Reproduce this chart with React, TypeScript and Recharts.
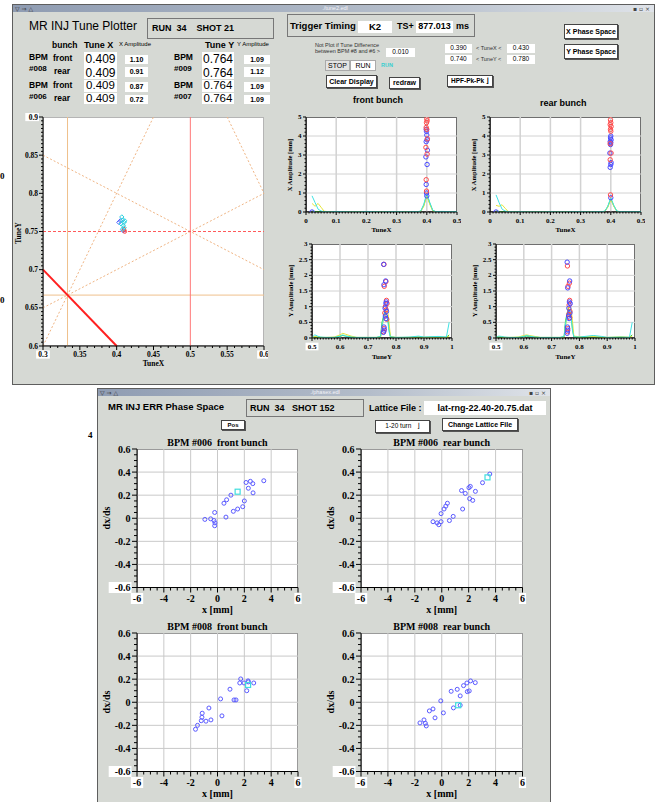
import React from "react";
import { ComposedChart, XAxis, YAxis, Line, Scatter, ReferenceLine } from "recharts";

const SANS = '"Liberation Sans", Arial, Helvetica, sans-serif';
const SERIF = '"Liberation Serif", "Times New Roman", serif';
const WIN = "#d6d9d4";
const CYAN = "#3fe3e3";
const YELLOW = "#e6e63a";
const GREEN = "#3cc83c";
const RED = "#ff4a4a";
const BLUE = "#4848ff";

// ---- tune diagram ----
const tuneCyan = [[0.407, 0.769], [0.408, 0.765], [0.41, 0.762], [0.409, 0.758], [0.411, 0.764], [0.406, 0.76], [0.41, 0.755], [0.408, 0.753]];
const tuneBlue = [[0.403, 0.762], [0.405, 0.764], [0.409, 0.751]];
const tuneRed = [[0.411, 0.75], [0.41, 0.753]];
const resonanceDotted = [
  [[0.3, 0.6], [0.45, 0.9]],
  [[0.3, 0.65], [0.6, 0.8]],
  [[0.3, 0.85], [0.6, 0.7]],
  [[0.55, 0.9], [0.6, 0.8]],
];
const couplingLine = [[0.3, 0.7], [0.4, 0.6]];
const thirdX = 0.3333;
const thirdY = 0.6667;
const halfX = 0.5;
const halfY = 0.75;

// ---- amplitude spectra ----
const binsX = [0.02, 0.03, 0.04, 0.05, 0.06, 0.08, 0.1, 0.12, 0.15, 0.18, 0.2, 0.22, 0.25, 0.28, 0.3, 0.33, 0.35, 0.37, 0.38, 0.39, 0.4, 0.41, 0.42, 0.43, 0.45, 0.48, 0.5];
const frontXCyan = [0.85, 0.5, 0.15, 0.05, 0.02, 0.01, 0.03, 0.02, 0.01, 0.01, 0.03, 0.02, 0.01, 0.02, 0.02, 0.01, 0.02, 0.02, 0.05, 0.4, 1.0, 0.5, 0.08, 0.02, 0.03, 0.02, 0.02];
const frontXYellow = [0.45, 0.3, 0.45, 0.25, 0.04, 0.01, 0.02, 0.01, 0.01, 0.01, 0.02, 0.01, 0.01, 0.01, 0.01, 0.01, 0.01, 0.01, 0.03, 0.3, 0.85, 0.4, 0.05, 0.01, 0.01, 0.01, 0.01];
const frontXGreen = [0.05, 0.03, 0.02, 0.01, 0.01, 0.01, 0.01, 0.01, 0.01, 0.01, 0.01, 0.01, 0.01, 0.01, 0.01, 0.01, 0.01, 0.01, 0.04, 0.35, 0.9, 0.45, 0.06, 0.02, 0.01, 0.01, 0.01];
const rearXCyan = [0.9, 0.5, 0.15, 0.05, 0.02, 0.01, 0.02, 0.01, 0.01, 0.01, 0.02, 0.01, 0.01, 0.02, 0.02, 0.01, 0.02, 0.02, 0.04, 0.3, 0.75, 0.35, 0.05, 0.02, 0.02, 0.02, 0.02];
const rearXYellow = [0.35, 0.3, 0.38, 0.2, 0.03, 0.01, 0.01, 0.01, 0.01, 0.01, 0.02, 0.01, 0.01, 0.01, 0.01, 0.01, 0.01, 0.01, 0.03, 0.25, 0.65, 0.3, 0.04, 0.01, 0.01, 0.01, 0.01];
const rearXGreen = [0.05, 0.03, 0.02, 0.01, 0.01, 0.01, 0.01, 0.01, 0.01, 0.01, 0.01, 0.01, 0.01, 0.01, 0.01, 0.01, 0.01, 0.01, 0.03, 0.28, 0.7, 0.32, 0.04, 0.01, 0.01, 0.01, 0.01];

const binsY = [0.5, 0.51, 0.52, 0.53, 0.55, 0.58, 0.6, 0.61, 0.62, 0.64, 0.66, 0.7, 0.73, 0.745, 0.75, 0.76, 0.77, 0.775, 0.78, 0.8, 0.85, 0.88, 0.9, 0.95, 0.98, 0.99];
const frontYCyan = [0.02, 0.1, 0.06, 0.03, 0.02, 0.02, 0.06, 0.1, 0.06, 0.03, 0.02, 0.02, 0.02, 0.05, 0.4, 0.8, 0.6, 0.2, 0.04, 0.02, 0.03, 0.06, 0.03, 0.05, 0.03, 0.5];
const frontYYellow = [0.01, 0.05, 0.04, 0.02, 0.02, 0.03, 0.1, 0.15, 0.12, 0.06, 0.02, 0.02, 0.02, 0.03, 0.3, 0.9, 0.9, 0.5, 0.05, 0.02, 0.02, 0.04, 0.02, 0.03, 0.02, 0.05];
const frontYGreen = [0.01, 0.03, 0.02, 0.02, 0.01, 0.02, 0.05, 0.08, 0.06, 0.03, 0.01, 0.01, 0.01, 0.05, 0.5, 0.85, 0.7, 0.3, 0.03, 0.01, 0.02, 0.03, 0.02, 0.03, 0.02, 0.1];
const rearYCyan = [0.02, 0.06, 0.05, 0.03, 0.02, 0.02, 0.05, 0.08, 0.06, 0.03, 0.02, 0.02, 0.02, 0.05, 0.45, 0.9, 0.7, 0.25, 0.04, 0.03, 0.08, 0.05, 0.02, 0.03, 0.02, 0.5];
const rearYYellow = [0.02, 0.05, 0.04, 0.02, 0.02, 0.03, 0.08, 0.1, 0.08, 0.05, 0.02, 0.02, 0.02, 0.03, 0.35, 1.0, 0.95, 0.55, 0.06, 0.04, 0.05, 0.03, 0.02, 0.04, 0.02, 0.05];
const rearYGreen = [0.01, 0.03, 0.02, 0.02, 0.01, 0.02, 0.04, 0.06, 0.05, 0.03, 0.01, 0.01, 0.01, 0.04, 0.55, 0.95, 0.75, 0.3, 0.03, 0.02, 0.03, 0.02, 0.01, 0.02, 0.02, 0.1];

// measured tune / amplitude per turn
const frontXRed = [[0.4, 4.9], [0.401, 4.8], [0.399, 4.7], [0.398, 4.45], [0.4, 4.35], [0.402, 3.85], [0.397, 3.4], [0.401, 3.05], [0.398, 1.7], [0.399, 1.1]];
const frontXBlue = [[0.398, 4.35], [0.399, 4.25], [0.4, 4.05], [0.401, 3.8], [0.398, 3.7], [0.402, 3.25], [0.397, 2.9], [0.401, 2.5], [0.398, 1.45], [0.399, 1.0], [0.4, 0.85], [0.02, 0]];
const rearXRed = [[0.399, 4.85], [0.4, 4.7], [0.398, 4.6], [0.401, 4.5], [0.399, 4.35], [0.4, 4.25], [0.398, 3.6], [0.401, 3.1], [0.398, 2.75], [0.399, 0.9]];
const rearXBlue = [[0.4, 4.0], [0.399, 3.9], [0.401, 3.8], [0.398, 3.7], [0.4, 3.65], [0.399, 3.55], [0.397, 3.1], [0.401, 2.6], [0.4, 2.5], [0.398, 2.35], [0.4, 0.75], [0.02, 0]];
const frontYRed = [[0.757, 2.35], [0.764, 1.8], [0.758, 1.65], [0.766, 1.2], [0.768, 1.1], [0.762, 1.0], [0.765, 0.9], [0.76, 0.8], [0.767, 0.6], [0.758, 0.3], [0.756, 0.2]];
const frontYBlue = [[0.756, 2.35], [0.763, 1.82], [0.757, 1.7], [0.765, 1.15], [0.764, 1.1], [0.761, 0.95], [0.766, 0.85], [0.762, 0.7], [0.764, 0.62], [0.757, 0.35], [0.758, 0.25], [0.755, 0.18]];
const rearYRed = [[0.757, 2.3], [0.764, 1.75], [0.759, 1.65], [0.765, 1.2], [0.763, 1.05], [0.766, 0.85], [0.762, 0.75], [0.765, 0.65], [0.758, 0.3], [0.757, 0.2]];
const rearYBlue = [[0.756, 2.42], [0.765, 1.82], [0.758, 1.6], [0.764, 1.15], [0.767, 1.1], [0.762, 0.95], [0.766, 0.8], [0.761, 0.7], [0.763, 0.62], [0.757, 0.35], [0.758, 0.25], [0.756, 0.15]];

// ---- phase space (x [mm], dx/ds) ----
const ph006Front = [[-0.94, -0.01], [-0.51, -0.005], [-0.26, -0.02], [-0.21, 0.05], [-0.19, -0.04], [-0.21, -0.065], [0.63, 0.01], [0.48, 0.13], [0.68, 0.16], [1.0, 0.2], [1.18, 0.06], [1.5, 0.08], [1.88, 0.1], [2.0, 0.15], [2.13, 0.31], [2.3, 0.26], [2.45, 0.32], [2.63, 0.3], [2.65, 0.22], [3.45, 0.325]];
const ph006FrontMean = [[1.5, 0.23]];
const ph006Rear = [[-0.65, -0.03], [-0.35, -0.04], [-0.22, -0.056], [-0.05, -0.03], [0.57, -0.02], [0.85, 0.016], [-0.05, 0.04], [0.17, 0.08], [0.3, 0.105], [0.42, 0.13], [1.55, 0.08], [1.47, 0.24], [1.75, 0.215], [2.02, 0.265], [2.12, 0.276], [2.07, 0.17], [2.3, 0.155], [2.5, 0.233], [3.03, 0.308], [3.57, 0.383]];
const ph006RearMean = [[3.4, 0.354]];
const ph008Front = [[-1.64, -0.234], [-1.49, -0.2], [-1.21, -0.16], [-1.16, -0.13], [-1.14, -0.095], [-0.86, -0.164], [-0.64, -0.05], [-0.49, -0.153], [0.23, 0.029], [0.33, -0.118], [0.93, 0.113], [1.23, 0.02], [1.38, 0.02], [1.66, 0.167], [1.73, 0.202], [1.98, 0.167], [2.18, 0.1], [2.28, 0.185], [2.3, 0.176], [2.7, 0.167]];
const ph008FrontMean = [[2.28, 0.15]];
const ph008Rear = [[-1.62, -0.179], [-1.32, -0.153], [-1.22, -0.182], [-1.15, -0.205], [-0.92, -0.075], [-0.65, -0.058], [-0.5, -0.135], [-0.07, 0.012], [0.12, -0.092], [0.7, 0.095], [0.87, -0.049], [1.15, 0.112], [1.37, -0.026], [1.37, 0.055], [1.62, 0.144], [1.9, 0.092], [2.04, 0.098], [1.87, 0.167], [2.14, 0.185], [2.49, 0.17]];
const ph008RearMean = [[1.22, -0.026]];

const tuneXMajor = [0.3, 0.35, 0.4, 0.45, 0.5, 0.55, 0.6];
const tuneYMajor = [0.6, 0.65, 0.7, 0.75, 0.8, 0.85, 0.9];
const ampXMajor = [0, 0.1, 0.2, 0.3, 0.4, 0.5];
const ampYMajor = [0, 1, 2, 3, 4, 5];
const ampTuneYMajor = [0.5, 0.6, 0.7, 0.8, 0.9, 1];
const ampYYMajor = [0, 0.5, 1, 1.5, 2, 2.5, 3];
const phXMajor = [-6, -4, -2, 0, 2, 4, 6];
const phYMajor = [-0.6, -0.4, -0.2, 0, 0.2, 0.4, 0.6];

const xy = (a: number[][]) => a.map(([x, y]) => ({ x, y }));
const pts = (xs: number[], ys: number[]) => xs.map((x, i) => ({ x, y: ys[i] }));
const steps = (d: number[], s: number) =>
  Array.from({ length: Math.round((d[1] - d[0]) / s) + 1 }, (_, i) => +(d[0] + i * s).toFixed(5));
const fmt = (v: number) => String(+v.toFixed(4));
const isIn = (arr: number[], v: number) => arr.some((m) => Math.abs(m - v) < 1e-6);

const ring = (c: string, r: number) => (p: any) => (
  <circle cx={p.cx} cy={p.cy} r={r} fill="none" stroke={c} strokeWidth={1} />
);
const square = (c: string, s: number) => (p: any) => (
  <rect x={p.cx - s / 2} y={p.cy - s / 2} width={s} height={s} fill="none" stroke={c} strokeWidth={1.2} />
);
const diamond = (c: string, r: number) => (p: any) => (
  <path d={`M${p.cx},${p.cy - r}L${p.cx + r},${p.cy}L${p.cx},${p.cy + r}L${p.cx - r},${p.cy}Z`} fill="none" stroke={c} strokeWidth={1} />
);

type PanelProps = {
  box: { x: number; y: number; w: number; h: number };
  xd: number[];
  yd: number[];
  xMajor: number[];
  yMajor: number[];
  xStep: number;
  yStep: number;
  font: number;
  gapX: number;
  gapY: number;
  ml: number;
  nl: number;
  frame: string;
  hlX?: number[];
  hlY?: number[];
  children?: React.ReactNode;
};

const YW = 40;
const XH = 30;
const MT = 4;
const MR = 4;

function Panel(props: PanelProps) {
  const { box, xd, yd, xMajor, yMajor, xStep, yStep, font, gapX, gapY, ml, nl, frame, hlX = [], hlY = [], children } = props;
  const xTick = (p: any) => {
    const v = p.payload.value;
    const major = isIn(xMajor, v);
    const t = fmt(v);
    const tw = t.length * font * 0.52 + 2;
    return (
      <g>
        <line x1={p.x} x2={p.x} y1={p.y} y2={p.y + (major ? ml : nl)} stroke="#000" />
        {major && isIn(hlX, v) && <rect x={p.x - tw / 2} y={p.y + gapX - font * 0.55} width={tw} height={font * 1.1} fill="#fff" />}
        {major && (
          <text x={p.x} y={p.y + gapX} textAnchor="middle" dominantBaseline="central" fontFamily={SERIF} fontWeight="bold" fontSize={font} fill="#000">
            {t}
          </text>
        )}
      </g>
    );
  };
  const yTick = (p: any) => {
    const v = p.payload.value;
    const major = isIn(yMajor, v);
    const t = fmt(v);
    const tw = t.length * font * 0.52 + 2;
    return (
      <g>
        <line x1={p.x} x2={p.x - (major ? ml : nl)} y1={p.y} y2={p.y} stroke="#000" />
        {major && isIn(hlY, v) && <rect x={p.x - gapY - tw + 1} y={p.y - font * 0.55} width={tw} height={font * 1.1} fill="#fff" />}
        {major && (
          <text x={p.x - gapY} y={p.y} textAnchor="end" dominantBaseline="central" fontFamily={SERIF} fontWeight="bold" fontSize={font} fill="#000">
            {t}
          </text>
        )}
      </g>
    );
  };
  return (
    <>
      <div style={{ position: "absolute", left: box.x, top: box.y, width: box.w, height: box.h, background: "#fff", boxShadow: `inset 0 0 0 1px ${frame}` }} />
      <div style={{ position: "absolute", left: box.x - YW, top: box.y - MT }}>
        <ComposedChart width={YW + box.w + MR} height={MT + box.h + XH} margin={{ top: MT, right: MR, left: 0, bottom: 0 }}>
          <XAxis type="number" dataKey="x" domain={xd} allowDataOverflow ticks={steps(xd, xStep)} interval={0} tickLine={false} tickSize={0} tickMargin={0} axisLine={{ stroke: "#000" }} height={XH} tick={xTick} />
          <YAxis type="number" dataKey="y" domain={yd} allowDataOverflow ticks={steps(yd, yStep)} interval={0} tickLine={false} tickSize={0} tickMargin={0} axisLine={{ stroke: "#000" }} width={YW} tick={yTick} />
          {children}
        </ComposedChart>
      </div>
    </>
  );
}

const Txt = ({ x, y, s, b, c, f, mid, children }: any) => (
  <div
    style={{
      position: "absolute",
      left: x,
      top: y - s * 0.6,
      fontSize: s,
      lineHeight: `${s * 1.2}px`,
      fontWeight: b ? 700 : 400,
      color: c || "#000",
      fontFamily: f || SANS,
      whiteSpace: "pre",
      transform: mid ? "translateX(-50%)" : undefined,
    }}
  >
    {children}
  </div>
);

const VTxt = ({ x, y, s, children }: any) => (
  <div
    style={{
      position: "absolute",
      left: x,
      top: y,
      fontSize: s,
      lineHeight: 1,
      fontWeight: 700,
      fontFamily: SERIF,
      whiteSpace: "pre",
      transform: "translate(-50%, -50%) rotate(-90deg)",
    }}
  >
    {children}
  </div>
);

const Field = ({ x, y, w, h, s, b, bg, border, shadow, c, children }: any) => (
  <div
    style={{
      position: "absolute",
      left: x,
      top: y,
      width: w,
      height: h,
      background: bg || "#fff",
      boxSizing: "border-box",
      border: border || "none",
      boxShadow: shadow ? "1px 1px 0 #555" : undefined,
      display: "flex",
      alignItems: "center",
      justifyContent: "center",
      overflow: "hidden",
      fontSize: s,
      fontWeight: b ? 700 : 400,
      color: c || "#000",
      fontFamily: SANS,
      whiteSpace: "pre",
      lineHeight: 1,
    }}
  >
    {children}
  </div>
);

const Window = ({ x, y, w, h, title, tx }: any) => (
  <>
    <div style={{ position: "absolute", left: x, top: y, width: w, height: h, background: WIN, border: "1px solid #5e5e5e", boxSizing: "border-box" }} />
    <div
      style={{
        position: "absolute",
        left: x + 1,
        top: y + 1,
        width: w - 2,
        height: 7,
        background: "linear-gradient(to right, #8f9cb2, #b4bdca 60%, #dfe3e9)",
      }}
    />
    <Txt x={x + 3} y={y + 4.5} s={6} c="#333" f='"DejaVu Sans", sans-serif'>▽ ⇒ △</Txt>
    <Txt x={tx} y={y + 4.5} s={5.5} c="#f4f4f8" mid>{title}</Txt>
    <Txt x={x + w - 22} y={y + 4.5} s={6} c="#444" f='"DejaVu Sans", sans-serif'>▪ ▫ ×</Txt>
  </>
);

const ampLines = (bins: number[], c: number[], yv: number[], g: number[]) => [
  <Line key="g" data={pts(bins, g)} dataKey="y" stroke={GREEN} strokeWidth={1} dot={false} isAnimationActive={false} />,
  <Line key="y" data={pts(bins, yv)} dataKey="y" stroke={YELLOW} strokeWidth={1} dot={false} isAnimationActive={false} />,
  <Line key="c" data={pts(bins, c)} dataKey="y" stroke={CYAN} strokeWidth={1} dot={false} isAnimationActive={false} />,
];

const grid = (xs: number[], ys: number[], c: string, wx = 1, wy = 1) => [
  ...xs.map((v) => <ReferenceLine key={`gx${v}`} x={v} stroke={c} strokeWidth={wx} />),
  ...ys.map((v) => <ReferenceLine key={`gy${v}`} y={v} stroke={c} strokeWidth={wy} />),
];

const ampCommon = { font: 7, gapX: 8.5, gapY: 4.5, ml: 3, nl: 1.5, frame: "#6f6f6f" };
const phCommon = { xd: [-6, 6], yd: [-0.6, 0.6], xMajor: phXMajor, yMajor: phYMajor, xStep: 0.5, yStep: 0.05, font: 10, gapX: 11, gapY: 6.5, ml: 5, nl: 3, frame: "#9a9a9a", hlX: [-6, 6], hlY: [-0.6] };

function PhasePlot({ box, title, pts: data, mean }: any) {
  return (
    <>
      <Panel box={box} {...phCommon}>
        {grid([-4, -2, 0, 2, 4], [-0.4, -0.2, 0, 0.2, 0.4], "#c9c9c9")}
        <Scatter data={xy(data)} isAnimationActive={false} shape={ring("#5a5aff", 2)} />
        <Scatter data={xy(mean)} isAnimationActive={false} shape={square("#40dede", 5)} />
      </Panel>
      <Txt x={box.x + box.w / 2} y={box.y - 6} s={10} b f={SERIF} mid>{title}</Txt>
      <Txt x={box.x + box.w / 2} y={box.y + box.h + 22} s={10} b f={SERIF} mid>x [mm]</Txt>
      <VTxt x={box.x - 30} y={box.y + box.h / 2} s={10}>dx/ds</VTxt>
    </>
  );
}

export default function App() {
  const tuneBox = { x: 43, y: 117, w: 221, h: 229 };
  const fxBox = { x: 306, y: 117, w: 151, h: 95 };
  const rxBox = { x: 490, y: 117, w: 151, h: 95 };
  const fyBox = { x: 312, y: 244, w: 140, h: 94 };
  const ryBox = { x: 496, y: 244, w: 139, h: 94 };
  return (
    <div style={{ position: "absolute", left: 0, top: 0, width: 660, height: 802, overflow: "hidden", background: "#fff", fontFamily: SANS }}>
      <Txt x={0} y={176} s={9} b f={SERIF}>0</Txt>
      <Txt x={0} y={300} s={9} b f={SERIF}>0</Txt>
      <Txt x={88} y={435} s={9} b f={SERIF}>4</Txt>

      {/* ===== tune plotter window ===== */}
      <Window x={12} y={4} w={643} h={381} title="./tune2.edl" tx={335} />
      <Txt x={29} y={26.5} s={12}>MR INJ Tune Plotter</Txt>
      <Field x={147} y={17.5} w={127} h={21} bg={WIN} border="1px solid #777" />
      <Txt x={152} y={28.5} s={9} b>RUN  34    SHOT 21</Txt>

      <Txt x={52} y={45} s={8.5} b>bunch</Txt>
      <Txt x={84} y={45} s={9} b>Tune X</Txt>
      <Txt x={119} y={45} s={6}>X Amplitude</Txt>
      <Txt x={205} y={45} s={9} b>Tune Y</Txt>
      <Txt x={237} y={45} s={6}>Y Amplitude</Txt>

      <Txt x={29} y={57.5} s={8.5} b>BPM</Txt>
      <Txt x={29} y={69} s={8} b>#008</Txt>
      <Txt x={53} y={58} s={8.5} b>front</Txt>
      <Txt x={54} y={71} s={8.5} b>rear</Txt>
      <Txt x={29} y={85} s={8.5} b>BPM</Txt>
      <Txt x={29} y={96.5} s={8} b>#006</Txt>
      <Txt x={53} y={85} s={8.5} b>front</Txt>
      <Txt x={54} y={98} s={8.5} b>rear</Txt>

      <Field x={84} y={52} w={33} h={14} s={12}>0.409</Field>
      <Field x={84} y={66} w={33} h={13} s={12}>0.409</Field>
      <Field x={84} y={80} w={33} h={12} s={11.5}>0.409</Field>
      <Field x={84} y={92.5} w={33} h={11.5} s={11.5}>0.409</Field>
      <Field x={125} y={54.5} w={23} h={9.5} s={7} b>1.10</Field>
      <Field x={125} y={67} w={23} h={9.5} s={7} b>0.91</Field>
      <Field x={125} y={82} w={23} h={9.5} s={7} b>0.87</Field>
      <Field x={125} y={94.5} w={23} h={9.5} s={7} b>0.72</Field>

      <Txt x={174} y={57.5} s={8.5} b>BPM</Txt>
      <Txt x={174} y={69} s={8} b>#009</Txt>
      <Txt x={174} y={85} s={8.5} b>BPM</Txt>
      <Txt x={174} y={96.5} s={8} b>#007</Txt>
      <Field x={202} y={52} w={32} h={14} s={12}>0.764</Field>
      <Field x={202} y={66} w={32} h={13} s={12}>0.764</Field>
      <Field x={202} y={80} w={32} h={12} s={11.5}>0.764</Field>
      <Field x={202} y={92.5} w={32} h={11.5} s={11.5}>0.764</Field>
      <Field x={244} y={54.5} w={26} h={9.5} s={7} b>1.09</Field>
      <Field x={244} y={67} w={26} h={9.5} s={7} b>1.12</Field>
      <Field x={244} y={82} w={26} h={9.5} s={7} b>1.09</Field>
      <Field x={244} y={94.5} w={26} h={9.5} s={7} b>1.09</Field>

      <Field x={287} y={13.5} w={188} h={23} bg={WIN} border="1px solid #777" />
      <Txt x={290} y={26} s={9.5} b>Trigger Timing :</Txt>
      <Field x={358} y={20.5} w={34} h={12} s={9.5} b>K2</Field>
      <Txt x={397} y={26.5} s={9} b>TS+</Txt>
      <Field x={416} y={20.5} w={37} h={12} s={9} b>877.013</Field>
      <Txt x={456} y={26.5} s={9} b>ms</Txt>

      <Field x={564} y={24} w={54} h={15} s={7} b border="1px solid #444" shadow>X Phase Space</Field>
      <Field x={564} y={43.5} w={54} h={15} s={7} b border="1px solid #444" shadow>Y Phase Space</Field>

      <Txt x={315} y={45.5} s={5.5} c="#333">Not Plot if Tune Difference</Txt>
      <Txt x={315} y={51.5} s={5.5} c="#333">between BPM #8 and #6 &gt;</Txt>
      <Field x={386} y={48} w={29} h={9} s={6.5}>0.010</Field>
      <Field x={445} y={43.5} w={27} h={9} s={6.5}>0.390</Field>
      <Txt x={476} y={48} s={5.5} c="#333">&lt; TuneX &lt;</Txt>
      <Field x={507} y={43.5} w={28} h={9} s={6.5}>0.430</Field>
      <Field x={445} y={55} w={27} h={9} s={6.5}>0.740</Field>
      <Txt x={476} y={59.5} s={5.5} c="#333">&lt; TuneY &lt;</Txt>
      <Field x={507} y={55} w={28} h={9} s={6.5}>0.780</Field>

      <Field x={325} y={60} w={25} h={11} s={7} bg="#e4e4e4" border="1px solid #aaa">STOP</Field>
      <Field x={350} y={60} w={26} h={11} s={7} border="1px solid #aaa">RUN</Field>
      <Txt x={381} y={65} s={5.5} b c="#36cfd0">RUN</Txt>

      <Field x={326} y={75} w={51} h={13} s={7} b border="1px solid #444" shadow>Clear Display</Field>
      <Field x={389} y={77} w={31} h={11.5} s={7} b border="1px solid #444" shadow>redraw</Field>
      <Field x={447} y={75} w={46} h={12} s={6.5} b border="1px solid #444" shadow>HPF-Pk-Pk ⌋</Field>

      <Txt x={353} y={100} s={9} b>front bunch</Txt>
      <Txt x={540} y={103} s={9} b>rear bunch</Txt>

      {/* tune diagram */}
      <Panel box={tuneBox} xd={[0.3, 0.6]} yd={[0.6, 0.9]} xMajor={tuneXMajor} yMajor={tuneYMajor} xStep={0.01} yStep={0.005} font={7.5} gapX={8.5} gapY={5} ml={4} nl={2} frame="#b5b5b5" hlX={[0.3, 0.6]} hlY={[0.9]}>
        <ReferenceLine x={thirdX} stroke="#efc08c" />
        <ReferenceLine y={thirdY} stroke="#efc08c" />
        {resonanceDotted.map((s, i) => (
          <ReferenceLine key={i} segment={xy(s)} stroke="#f0b584" strokeDasharray="2 2" />
        ))}
        <ReferenceLine x={halfX} stroke="#ff7878" />
        <ReferenceLine y={halfY} stroke="#ff5a5a" strokeDasharray="3 2" />
        <ReferenceLine segment={xy(couplingLine)} stroke="#ff2020" strokeWidth={2} />
        <Scatter data={xy(tuneBlue)} isAnimationActive={false} shape={diamond("#5060ff", 2.2)} />
        <Scatter data={xy(tuneRed)} isAnimationActive={false} shape={ring("#ff4040", 1.8)} />
        <Scatter data={xy(tuneCyan)} isAnimationActive={false} shape={diamond("#2ed2e0", 2.2)} />
      </Panel>
      <Txt x={153.5} y={363.5} s={7.5} b f={SERIF} mid>TuneX</Txt>
      <VTxt x={18.5} y={233} s={7.5}>TuneY</VTxt>

      {/* amplitude vs tune */}
      <Panel box={fxBox} xd={[0, 0.5]} yd={[0, 5]} xMajor={ampXMajor} yMajor={ampYMajor} xStep={0.01} yStep={0.2} {...ampCommon}>
        {grid([0.1, 0.2, 0.3, 0.4], [1, 2, 3, 4], "#d2d2d2", 1.5, 1)}
        {ampLines(binsX, frontXCyan, frontXYellow, frontXGreen)}
        <Scatter data={xy(frontXBlue)} isAnimationActive={false} shape={ring(BLUE, 2.2)} />
        <Scatter data={xy(frontXRed)} isAnimationActive={false} shape={ring(RED, 2.2)} />
      </Panel>
      <Txt x={fxBox.x + fxBox.w / 2} y={230.5} s={7} b f={SERIF} mid>TuneX</Txt>
      <VTxt x={290} y={165} s={6.5}>X Amplitude [mm]</VTxt>

      <Panel box={rxBox} xd={[0, 0.5]} yd={[0, 5]} xMajor={ampXMajor} yMajor={ampYMajor} xStep={0.01} yStep={0.2} {...ampCommon}>
        {grid([0.1, 0.2, 0.3, 0.4], [1, 2, 3, 4], "#d2d2d2", 1.5, 1)}
        {ampLines(binsX, rearXCyan, rearXYellow, rearXGreen)}
        <Scatter data={xy(rearXBlue)} isAnimationActive={false} shape={ring(BLUE, 2.2)} />
        <Scatter data={xy(rearXRed)} isAnimationActive={false} shape={ring(RED, 2.2)} />
      </Panel>
      <Txt x={rxBox.x + rxBox.w / 2} y={230.5} s={7} b f={SERIF} mid>TuneX</Txt>
      <VTxt x={474} y={165} s={6.5}>X Amplitude [mm]</VTxt>

      <Panel box={fyBox} xd={[0.5, 1]} yd={[0, 3]} xMajor={ampTuneYMajor} yMajor={ampYYMajor} xStep={0.01} yStep={0.1} {...ampCommon} hlX={[0.5]}>
        {grid([0.6, 0.7, 0.8, 0.9], [0.5, 1, 1.5, 2, 2.5], "#d2d2d2", 1.5, 1)}
        {ampLines(binsY, frontYCyan, frontYYellow, frontYGreen)}
        <Scatter data={xy(frontYRed)} isAnimationActive={false} shape={ring(RED, 2.2)} />
        <Scatter data={xy(frontYBlue)} isAnimationActive={false} shape={ring(BLUE, 2.2)} />
      </Panel>
      <Txt x={fyBox.x + fyBox.w / 2} y={357} s={7} b f={SERIF} mid>TuneY</Txt>
      <VTxt x={291} y={291} s={6.5}>Y Amplitude [mm]</VTxt>

      <Panel box={ryBox} xd={[0.5, 1]} yd={[0, 3]} xMajor={ampTuneYMajor} yMajor={ampYYMajor} xStep={0.01} yStep={0.1} {...ampCommon} hlX={[0.5]}>
        {grid([0.6, 0.7, 0.8, 0.9], [0.5, 1, 1.5, 2, 2.5], "#d2d2d2", 1.5, 1)}
        {ampLines(binsY, rearYCyan, rearYYellow, rearYGreen)}
        <Scatter data={xy(rearYRed)} isAnimationActive={false} shape={ring(RED, 2.2)} />
        <Scatter data={xy(rearYBlue)} isAnimationActive={false} shape={ring(BLUE, 2.2)} />
      </Panel>
      <Txt x={ryBox.x + ryBox.w / 2} y={357} s={7} b f={SERIF} mid>TuneY</Txt>
      <VTxt x={475} y={291} s={6.5}>Y Amplitude [mm]</VTxt>

      {/* ===== phase space window ===== */}
      <Window x={97} y={388} w={454} h={420} title="./phasex.edl" tx={325} />
      <Txt x={108} y={407} s={9.5} b>MR INJ ERR Phase Space</Txt>
      <Field x={246} y={399} w={118} h={18} bg={WIN} border="1px solid #777" />
      <Txt x={250} y={408} s={9} b>RUN  34   SHOT 152</Txt>
      <Txt x={369} y={408} s={9} b>Lattice File :</Txt>
      <Field x={424} y={401} w={122} h={14} s={9} b>lat-rng-22.40-20.75.dat</Field>
      <Field x={221} y={420} w={24} h={10} s={6} b border="1px solid #444" shadow>Pos</Field>
      <Field x={375} y={420} w={55} h={13} s={6.5} border="1px solid #444" shadow>1-20 turn   ⌋</Field>
      <Field x={442} y={418} w={76} h={13} s={7} b border="1px solid #444" shadow>Change Lattice File</Field>

      <PhasePlot box={{ x: 137, y: 449, w: 161, h: 138.5 }} title="BPM #006  front bunch" pts={ph006Front} mean={ph006FrontMean} />
      <PhasePlot box={{ x: 361, y: 449, w: 161.5, h: 138.5 }} title="BPM #006  rear bunch" pts={ph006Rear} mean={ph006RearMean} />
      <PhasePlot box={{ x: 137, y: 633, w: 161, h: 138.5 }} title="BPM #008  front bunch" pts={ph008Front} mean={ph008FrontMean} />
      <PhasePlot box={{ x: 361, y: 633, w: 161.5, h: 138.5 }} title="BPM #008  rear bunch" pts={ph008Rear} mean={ph008RearMean} />
    </div>
  );
}
